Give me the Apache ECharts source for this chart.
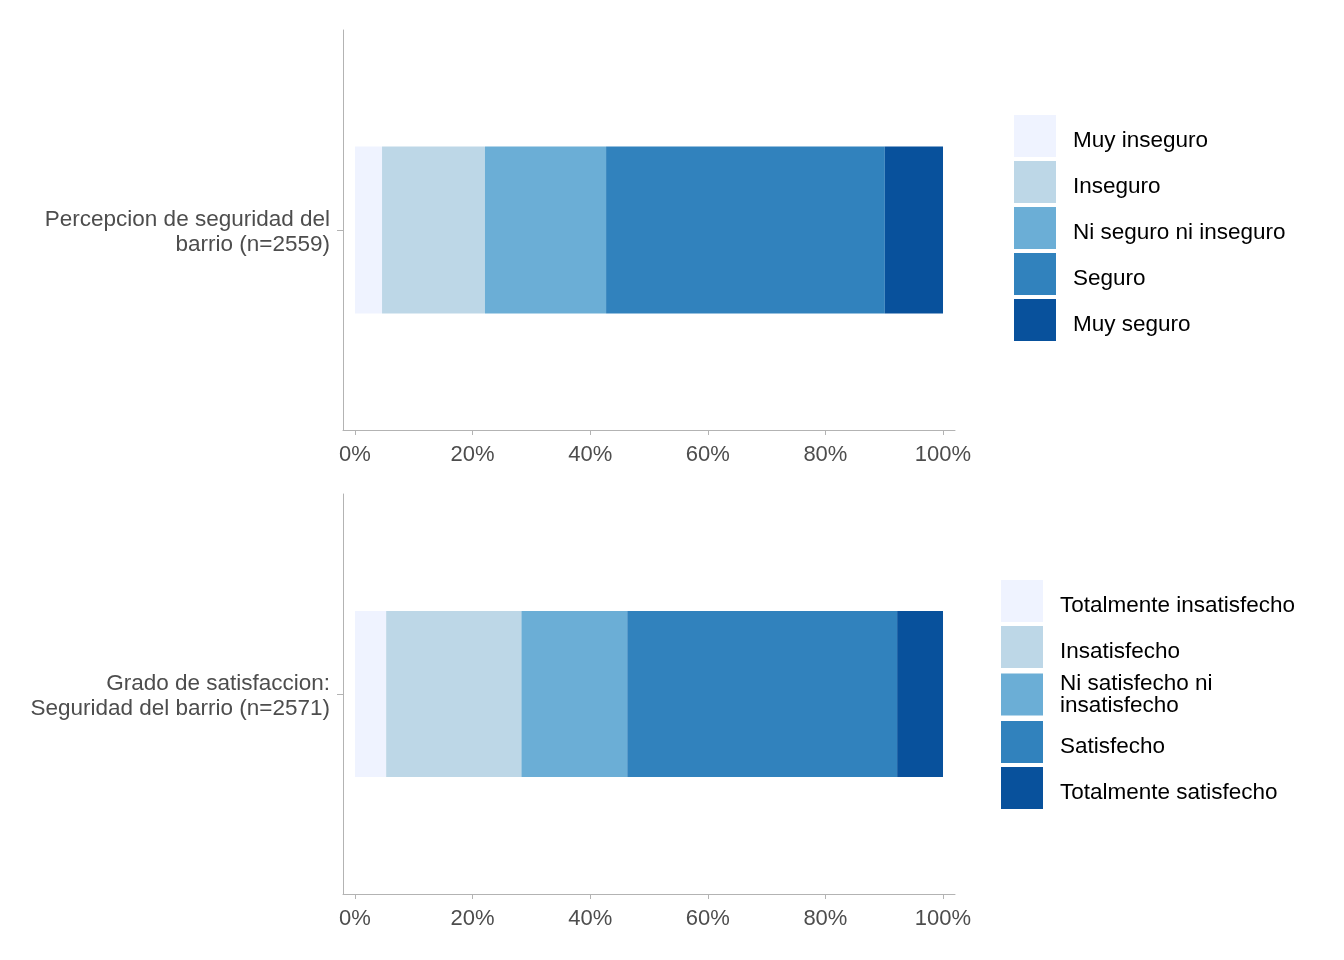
<!DOCTYPE html>
<html>
<head>
<meta charset="utf-8">
<script src="https://cdn.jsdelivr.net/npm/echarts@6/dist/echarts.min.js"></script>
<style>html,body{margin:0;padding:0;background:#fff}#c{width:1344px;height:960px}</style>
</head>
<body>
<div id="c"></div>
<script>
var topCategory = ['Percepcion de seguridad del\nbarrio (n=2559)'];
var topNames = ['Muy inseguro', 'Inseguro', 'Ni seguro ni inseguro', 'Seguro', 'Muy seguro'];
var topValues = [4.6, 17.5, 20.6, 47.4, 9.9];

var bottomCategory = ['Grado de satisfaccion:\nSeguridad del barrio (n=2571)'];
var bottomNames = ['Totalmente insatisfecho', 'Insatisfecho', 'Ni satisfecho ni\ninsatisfecho', 'Satisfecho', 'Totalmente satisfecho'];
var bottomValues = [5.3, 23.0, 18.0, 45.9, 7.8];

var tickValues = [0, 20, 40, 60, 80, 100];
var colors = ['#eff3ff', '#bdd7e7', '#6baed6', '#3182bd', '#08519c'];

var FONT = 'Liberation Sans, Arial, sans-serif';
var axisGray = '#b3b3b3';

function richLines(v) {
  var parts = String(v).split('\n');
  if (parts.length === 1) return '{p|' + parts[0] + '}';
  return parts.map(function (s, i) { return (i === 0 ? '{f|' : '{a|') + s + '}'; }).join('\n');
}

function xAxisDef(gi) {
  return {
    type: 'value', gridIndex: gi, min: -2.04, max: 102.04,
    axisLine: {show: true, onZero: false, lineStyle: {color: axisGray, width: 1}},
    axisTick: {show: true, length: 5, lineStyle: {color: axisGray}, customValues: tickValues},
    axisLabel: {show: true, customValues: tickValues, formatter: function (v) { return v + '%'; },
      color: '#4d4d4d', fontSize: 22, fontFamily: FONT, margin: 14},
    splitLine: {show: false}
  };
}
function yAxisDef(gi, cats) {
  var st = {color: '#4d4d4d', fontSize: 22.5, fontFamily: FONT, lineHeight: 25, align: 'right'};
  return {
    type: 'category', gridIndex: gi, data: cats,
    axisLine: {show: true, onZero: false, lineStyle: {color: axisGray, width: 1}},
    axisTick: {show: true, length: 6, alignWithLabel: true, lineStyle: {color: axisGray}},
    axisLabel: {color: '#4d4d4d', fontSize: 22.5, fontFamily: FONT, margin: 13, lineHeight: 25,
      align: 'right', formatter: richLines,
      rich: {
        f: Object.assign({}, st, {padding: [5, 0, 0, 0]}),
        a: Object.assign({}, st, {padding: [5, 0, 0, 0]})
      }}
  };
}

var series = [];
topNames.forEach(function (n, i) {
  series.push({name: n, type: 'bar', stack: 'top', xAxisIndex: 0, yAxisIndex: 0,
    data: [topValues[i]], barWidth: '41.75%', itemStyle: {color: colors[i]}, silent: true});
});
bottomNames.forEach(function (n, i) {
  series.push({name: n, type: 'bar', stack: 'bot', xAxisIndex: 1, yAxisIndex: 1,
    data: [bottomValues[i]], barWidth: '41.5%', itemStyle: {color: colors[i]}, silent: true});
});

var legStyle = {color: '#000', fontSize: 22.5, fontFamily: FONT};
function legendDef(names, left, top) {
  return {
    data: names, orient: 'vertical', left: left, top: top, itemWidth: 42, itemHeight: 42, itemGap: 4,
    icon: 'rect', selectedMode: false, padding: 0,
    formatter: richLines,
    textStyle: {color: '#000', fontSize: 22.5, fontFamily: FONT, padding: [0, 0, 0, 12],
      rich: {
        p: Object.assign({}, legStyle, {padding: [9, 0, 0, 0]}),
        f: Object.assign({}, legStyle, {lineHeight: 22}),
        a: Object.assign({}, legStyle, {lineHeight: 22})
      }}
  };
}

var chart = echarts.init(document.getElementById('c'), null, {renderer: 'canvas'});
chart.setOption({
  backgroundColor: '#fff',
  animation: false,
  grid: [
    {left: 343, top: 30, width: 612, height: 400},
    {left: 343, top: 494, width: 612, height: 400}
  ],
  xAxis: [xAxisDef(0), xAxisDef(1)],
  yAxis: [yAxisDef(0, topCategory), yAxisDef(1, bottomCategory)],
  legend: [legendDef(topNames, 1014, 115), legendDef(bottomNames, 1001, 580)],
  series: series
});
</script>
</body>
</html>
